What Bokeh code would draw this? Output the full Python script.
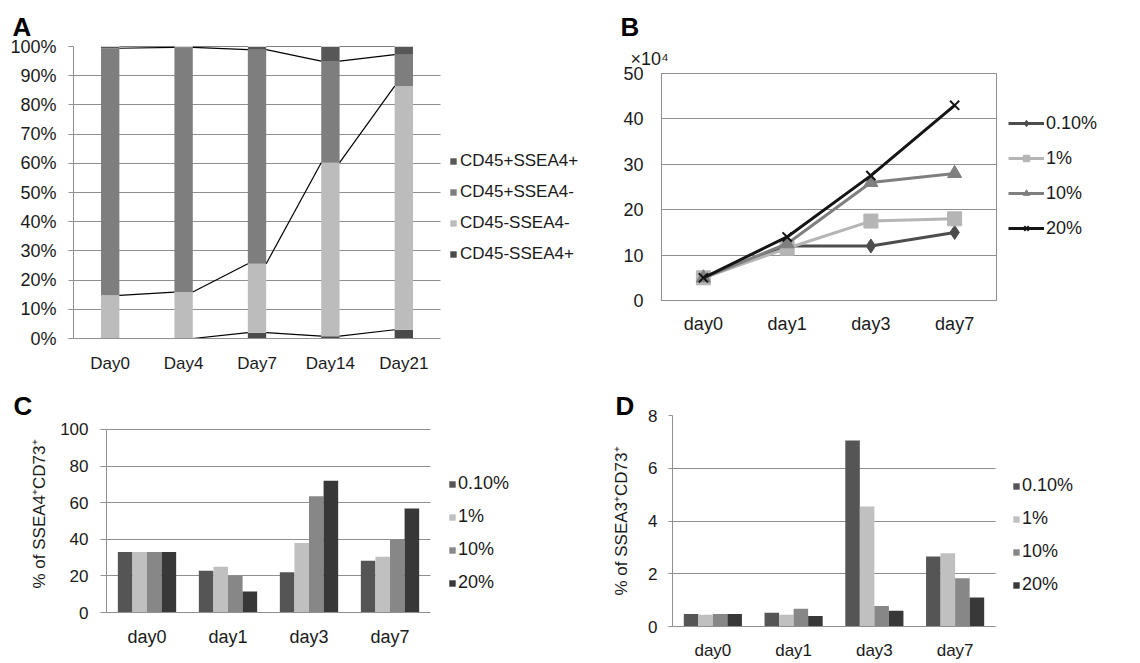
import numpy as np
from bokeh.plotting import figure
from bokeh.layouts import column, row
from bokeh.models import (Range1d, FixedTicker, PrintfTickFormatter,
                          Legend, LegendItem, Label, ColumnDataSource, Grid)
from bokeh.transform import dodge
from bokeh.embed import file_html
from bokeh.resources import INLINE

FONT = "Liberation Sans"
GRID = "#8f8f8f"
TXT = "#1a1a1a"

# ---------------- data ----------------
# Panel A (stacked 100%)
a_days = ["Day0", "Day4", "Day7", "Day14", "Day21"]
a_neg_pos = [0.0, 0.0, 2.0, 0.8, 3.0]          # CD45-SSEA4+
a_neg_neg = [14.8, 15.9, 23.6, 59.4, 83.4]     # CD45-SSEA4-
a_pos_neg = [84.6, 83.8, 73.3, 34.8, 10.8]     # CD45+SSEA4-
a_pos_pos = [0.6, 0.3, 1.1, 5.0, 2.8]          # CD45+SSEA4+
a_names = ["CD45-SSEA4+", "CD45-SSEA4-", "CD45+SSEA4-", "CD45+SSEA4+"]
a_colors = ["#4a4a4a", "#bcbcbc", "#7e7e7e", "#575757"]
a_ticks = list(range(0, 101, 10))

# Panel B (x10^4 cells)
days = ["day0", "day1", "day3", "day7"]
conc = ["0.10%", "1%", "10%", "20%"]
b_01 = [5, 12, 12, 15]
b_1 = [5, 11.5, 17.5, 18]
b_10 = [5, 12.5, 26, 28]
b_20 = [5, 14, 27.5, 43]
b_ticks = list(range(0, 51, 10))

# Panel C (% of SSEA4+CD73+)
c_01 = [33, 22.8, 22, 28.3]
c_1 = [33, 25, 38, 30.5]
c_10 = [33, 20, 63.5, 40]
c_20 = [33, 11.5, 72, 56.8]
c_ticks = list(range(0, 101, 20))

# Panel D (% of SSEA3+CD73+)
d_01 = [0.47, 0.52, 7.05, 2.65]
d_1 = [0.45, 0.45, 4.55, 2.78]
d_10 = [0.47, 0.67, 0.78, 1.83]
d_20 = [0.47, 0.4, 0.6, 1.1]
d_ticks = list(range(0, 9, 2))

conc_colors = ["#555555", "#c0c0c0", "#878787", "#383838"]
line_colors = ["#4d4d4d", "#b5b5b5", "#7f7f7f", "#151515"]
markers = ["diamond", "square", "triangle", "x"]

HAS_CROSS = "cross_bounds" in Grid.properties()


def mkfig(x_range, y_range, bl, bt, fw, fh, br, bb):
    p = figure(x_range=x_range, y_range=y_range, frame_width=fw, frame_height=fh,
               min_border_left=bl, min_border_top=bt, min_border_right=br,
               min_border_bottom=bb, toolbar_location=None, output_backend="svg",
               background_fill_color="white", border_fill_color="white")
    p.outline_line_color = None
    p.xgrid.visible = False
    p.ygrid.grid_line_color = GRID
    for ax in (p.xaxis[0], p.yaxis[0]):
        ax.axis_line_color = GRID
        ax.major_tick_line_color = GRID
        ax.minor_tick_line_color = None
        ax.minor_tick_out = 0
        ax.major_tick_in = 0
        ax.major_label_text_font = FONT
        ax.major_label_text_color = TXT
        ax.axis_label_text_font = FONT
        ax.axis_label_text_color = TXT
        ax.axis_label_text_font_style = "normal"
    p.xaxis.major_tick_line_color = None
    p.xaxis.major_tick_out = 0
    return p


def bounded_grid(p, ticks, lo, hi):
    """horizontal grid lines at the y ticks, limited to the data box lo..hi"""
    if HAS_CROSS:
        p.ygrid.ticker = FixedTicker(ticks=ticks)
        p.ygrid.cross_bounds = (lo, hi)
    else:
        p.ygrid.visible = False
        p.segment(x0=[lo] * len(ticks), x1=[hi] * len(ticks), y0=ticks, y1=ticks,
                  line_color=GRID, line_width=1)
    p.xaxis.bounds = (lo, hi)
    p.yaxis.bounds = (ticks[0], ticks[-1])
    p.yaxis.ticker = FixedTicker(ticks=ticks)


def letter(p, txt, offset, standoff):
    p.title.text = txt
    p.title.align = "left"
    p.title.offset = offset
    p.title.standoff = standoff
    p.title.vertical_align = "bottom"
    p.title.text_font = FONT
    p.title.text_font_size = "26px"
    p.title.text_font_style = "bold"
    p.title.text_color = "black"


def mklegend(items, xy, gw, gh, lh, sp, fs, standoff):
    return Legend(items=items, location=xy, glyph_width=gw, glyph_height=gh,
                  label_height=lh, spacing=sp, padding=0, margin=0,
                  border_line_color=None, background_fill_alpha=0,
                  label_text_font=FONT, label_text_font_size=fs,
                  label_text_color=TXT, label_standoff=standoff)


# Row geometry: row 1 = 375 px tall, row 2 = 287 px tall
# ---------------- Panel A ----------------
# frame x 73..580 (data box 73..440), y 46..338
xa = list(range(len(a_days)))
a_lo, a_hi = -0.5, len(a_days) - 0.5
pA = mkfig(Range1d(a_lo, 6.407), Range1d(0, 100), 73, 46, 507, 292, 0, 37)
srcA = ColumnDataSource(dict(x=xa, s0=a_neg_pos, s1=a_neg_neg, s2=a_pos_neg, s3=a_pos_pos))
rsA = pA.vbar_stack(["s0", "s1", "s2", "s3"], x="x", width=0.25, source=srcA,
                    fill_color=a_colors, line_color=None)
cum = np.cumsum(np.array([a_neg_pos, a_neg_neg, a_pos_neg, a_pos_pos]), axis=0)
for k in range(4):
    pA.segment(x0=[i + 0.125 for i in xa[:-1]], y0=list(cum[k][:-1]),
               x1=[i + 0.875 for i in xa[:-1]], y1=list(cum[k][1:]),
               line_color="black", line_width=1.2)
bounded_grid(pA, a_ticks, a_lo, a_hi)
pA.yaxis.formatter = PrintfTickFormatter(format="%d%%")
pA.yaxis.major_tick_out = 5
pA.yaxis.major_label_standoff = 12
pA.yaxis.major_label_text_font_size = "18px"
pA.xaxis.ticker = FixedTicker(ticks=xa)
pA.xaxis.major_label_overrides = {i: d for i, d in zip(xa, a_days)}
pA.xaxis.major_label_text_font_size = "17px"
pA.xaxis.major_label_standoff = 15
pA.add_layout(mklegend([LegendItem(label=a_names[k], renderers=[rsA[k]]) for k in (3, 2, 1, 0)],
                       (376, 74), 8, 8, 20, 11, "17px", 3))
letter(pA, "A", -61, 10)

# ---------------- Panel B ----------------
# frame x 620..1130, y 46..339 ; data box 661..996 x 73..300
bx = list(range(len(days)))
b_lo, b_hi = -0.5, len(days) - 0.5
pB = mkfig(Range1d(-0.9896, 5.1), Range1d(-8.59, 55.95), 40, 46, 510, 293, 6, 36)
pB.quad(left=[b_lo], right=[b_hi], bottom=[b_ticks[0]], top=[b_ticks[-1]],
        fill_color=None, line_color=GRID, line_width=1)
bounded_grid(pB, b_ticks, b_lo, b_hi)
pB.yaxis.fixed_location = b_lo
pB.yaxis.major_tick_line_color = None
pB.yaxis.major_tick_out = 0
pB.yaxis.major_label_standoff = 18
pB.yaxis.major_label_text_font_size = "18px"
pB.xaxis.fixed_location = b_ticks[0]
pB.xaxis.ticker = FixedTicker(ticks=bx)
pB.xaxis.major_label_overrides = {i: d for i, d in zip(bx, days)}
pB.xaxis.major_label_text_font_size = "18px"
pB.xaxis.major_label_standoff = 13
itemsB = []
for vals, name, col, mk in zip([b_01, b_1, b_10, b_20], conc, line_colors, markers):
    rl = pB.line(bx, vals, line_color=col, line_width=3)
    rm = pB.scatter(bx, vals, marker=mk, size=14 if mk != "x" else 13,
                    fill_color=col, line_color=col, line_width=2 if mk == "x" else 1)
    itemsB.append(LegendItem(label=name, renderers=[rl, rm]))
pB.add_layout(mklegend(itemsB, (388, 100), 36, 16, 22, 13, "18px", 2))
pB.add_layout(Label(x=10, y=281, x_units="screen", y_units="screen", text="×10⁴",
                    text_font=FONT, text_font_size="18px", text_color=TXT,
                    text_baseline="alphabetic"))
letter(pB, "B", 0, 10)


# ---------------- Panels C, D ----------------
def grouped(p, vals_list, legend_xy):
    src = ColumnDataSource(dict(x=bx, v0=vals_list[0], v1=vals_list[1],
                                v2=vals_list[2], v3=vals_list[3]))
    offs = [-0.27, -0.09, 0.09, 0.27]
    items = []
    for k in range(4):
        r = p.vbar(x=dodge("x", offs[k]), top="v%d" % k, width=0.18,
                   source=src, fill_color=conc_colors[k], line_color=None)
        items.append(LegendItem(label=conc[k], renderers=[r]))
    p.add_layout(mklegend(items, legend_xy, 8, 8, 20, 12, "18px", 2))
    p.xaxis.ticker = FixedTicker(ticks=bx)
    p.xaxis.major_label_overrides = {i: d for i, d in zip(bx, days)}


# C: frame x 106..575 (box 106..430), y 415..612 (100 at 429)
pC = mkfig(Range1d(b_lo, 5.29), Range1d(0, 107.65), 106, 40, 469, 197, 5, 50)
bounded_grid(pC, c_ticks, b_lo, b_hi)
pC.yaxis.major_tick_out = 6
pC.yaxis.major_label_standoff = 12
pC.yaxis.major_label_text_font_size = "17px"
pC.yaxis.axis_label = "% of SSEA4⁺CD73⁺"
pC.yaxis.axis_label_text_font_size = "17px"
pC.yaxis.axis_label_standoff = 8
pC.xaxis.major_label_text_font_size = "18px"
pC.xaxis.major_label_standoff = 14
grouped(pC, [c_01, c_1, c_10, c_20], (342, 19))
letter(pC, "C", -93, -10)

# D: frame x 672..1130 (box 672..995), y 415..626
pD = mkfig(Range1d(b_lo, 5.172), Range1d(0, 8), 92, 40, 458, 211, 6, 36)
bounded_grid(pD, d_ticks, b_lo, b_hi)
pD.yaxis.major_tick_out = 4
pD.yaxis.major_label_standoff = 11
pD.yaxis.major_label_text_font_size = "17px"
pD.yaxis.axis_label = "% of SSEA3⁺CD73⁺"
pD.yaxis.axis_label_text_font_size = "17px"
pD.yaxis.axis_label_standoff = 14
pD.xaxis.major_label_text_font_size = "17px"
pD.xaxis.major_label_standoff = 14
grouped(pD, [d_01, d_1, d_10, d_20], (340, 31))
letter(pD, "D", -57, -10)

layout = column(row(pA, pB), row(pC, pD))
open("out.html", "w").write(file_html(layout, INLINE))
